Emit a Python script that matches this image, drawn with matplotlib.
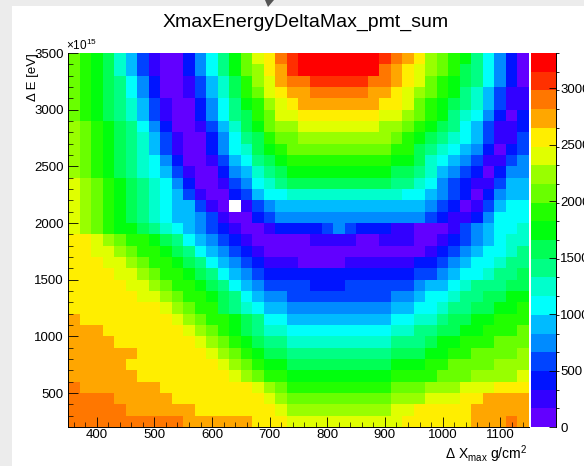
"""
XmaxEnergyDeltaMax_pmt_sum  (ROOT style colz map)
"""

import colorsys
import numpy as np
import matplotlib
matplotlib.use("Agg")
from matplotlib import pyplot as plt
from matplotlib.colors import ListedColormap, BoundaryNorm
from matplotlib.patches import Rectangle, Polygon
from matplotlib.ticker import MultipleLocator

plt.rcParams['font.family'] = ['Liberation Sans', 'DejaVu Sans']
plt.rcParams['mathtext.fontset'] = 'custom'
plt.rcParams['mathtext.rm'] = 'Liberation Sans'
plt.rcParams['mathtext.it'] = 'Liberation Sans:italic'
plt.rcParams['mathtext.default'] = 'regular'

# histogram binning (x in g/cm2, y in units of 1e15 eV)
x_lo, x_hi, x_bin = 350, 1150, 20
y_lo, y_hi, y_bin = 200, 3500, 100
z_max = 3310
n_levels = 20

# colour level of every bin (0 = violet ... 19 = red), top row first, -1 = empty bin
levels_top_down = [
    [12,11,10,9,7,5,3,1,0,0, 2,4,6,8,10,12,14,15,17,18, 19,19,19,19,19,19,19,18,17,16, 15,13,12,11,10,8,6,4,2,0],
    [12,11,10,9,7,5,3,1,0,0, 2,4,6,8,10,12,13,15,16,18, 19,19,19,19,19,19,19,17,16,15, 14,13,12,11,9,8,6,4,2,0],
    [12,11,10,9,8,6,4,2,0,0, 1,3,5,7,9,11,13,14,16,17, 17,18,18,18,18,18,17,17,16,15, 14,12,11,10,9,8,6,4,2,0],
    [12,11,10,9,8,6,4,2,0,0, 1,3,5,7,9,11,12,14,15,16, 16,17,17,17,17,17,16,16,15,14, 13,12,11,10,8,7,5,3,1,1],
    [12,11,10,9,8,7,5,3,1,0, 0,2,4,6,8,10,11,13,14,15, 16,16,16,16,16,16,16,15,15,14, 12,11,10,9,8,7,5,3,1,1],
    [12,11,10,9,8,7,5,3,1,0, 0,2,4,6,8,9,11,12,14,14, 15,15,15,15,15,15,15,14,14,13, 12,11,10,8,7,6,4,2,0,2],
    [13,12,11,10,9,8,6,4,2,0, 0,1,3,5,7,9,10,12,13,13, 14,14,14,14,14,14,14,13,13,12, 11,10,9,8,6,5,3,1,1,2],
    [13,12,11,10,9,8,7,5,3,1, 0,0,2,4,6,8,9,11,12,12, 13,13,13,13,13,13,13,13,12,11, 10,9,8,7,6,5,3,1,1,3],
    [13,12,11,10,9,8,7,5,3,1, 0,0,2,4,6,7,9,10,11,12, 12,12,12,12,12,12,12,12,11,11, 9,8,7,6,5,4,2,0,2,3],
    [13,12,11,10,9,8,7,6,4,2, 0,0,1,3,5,6,8,9,10,11, 11,11,11,11,11,11,11,11,10,10, 9,7,6,5,4,3,1,1,3,4],
    [13,12,11,10,9,8,7,6,5,3, 1,0,0,2,4,5,7,8,9,10, 10,10,10,10,10,10,10,10,9,9, 8,7,5,4,3,2,0,2,4,4],
    [14,13,12,11,10,9,8,7,6,4, 2,0,0,1,3,4,6,7,8,9, 9,9,9,9,9,9,9,9,8,8, 7,6,4,3,2,1,1,3,5,5],
    [14,13,12,11,10,9,8,7,6,5, 3,1,0,0,2,3,5,6,6,7, 7,7,7,7,7,7,7,7,7,6, 6,5,4,3,2,0,2,4,5,5],
    [14,13,12,11,10,9,8,7,6,5, 5,3,1,0,-1,1,3,4,5,5, 5,5,5,5,5,5,5,5,5,5, 5,4,3,2,0,1,3,5,6,6],
    [14,13,12,11,10,9,8,7,6,5, 5,4,3,1,0,0,2,3,4,4, 4,4,4,4,4,4,4,4,4,4, 4,3,2,1,1,2,4,6,6,6],
    [14,13,12,11,10,10,9,8,7,6, 5,4,3,2,1,0,0,1,2,2, 2,2,3,4,3,2,2,2,1,1, 0,0,0,1,3,4,5,6,6,7],
    [15,15,14,13,12,11,11,10,9,8, 6,5,4,3,2,1,0,0,0,0, 0,1,1,1,1,0,0,1,1,1, 0,0,1,2,3,4,5,6,7,7],
    [15,15,14,14,13,12,11,11,10,9, 8,6,5,4,3,2,1,0,0,0, 0,0,0,0,0,0,0,0,0,0, 0,1,2,3,4,5,6,6,7,8],
    [15,15,15,14,14,13,12,11,11,10, 9,8,6,5,4,3,2,1,1,1, 0,0,0,0,1,1,1, 1,1,1,2,2,3,4,5,6,6,7,8,8],
    [15,15,15,15,14,14,13,12,11,11, 10,9,8,6,5,4,3,2,2,2, 2,2,2,2,2,2,2, 2,2,2,3,3,4,5,6,6,7,8,8,9],
    [15,15,15,15,15,14,14,13,12,11, 11,10,9,8,6,5,4,3,3,3, 3,2,2,2,3,3,3, 3,3,3,4,5,5,6,7,8,8,8,9,9],
    [15,15,15,15,15,15,14,14,13,12, 11,11,10,9,8,6,5,4,4,3, 3,3,3,3,3,3,3, 3,4,4,5,6,6,7,8,8,9,9,10,10],
    [15,15,15,15,15,15,15,15,14,13, 12,11,11,9,8,7,6,5,5,4, 4,4,4,4,4,4,4, 4,5,5,6,6,7,8,8,9,9,10,10,11],
    [16,15,15,15,15,15,15,15,15,14, 13,12,11,11,10,9,8,6,6,5, 5,5,5,5,5,5,5, 5,6,6,7,7,8,9,9,10,10,11,11,11],
    [16,16,16,15,15,15,15,15,15,15, 14,13,12,11,10,9,8,7,7,6, 6,6,6,6,6,6,6, 6,7,7,8,8,9,9,10,10,11,11,11,12],
    [16,16,16,16,15,15,15,15,15,15, 15,14,13,12,11,10,9,8,8,7, 7,7,7,7,7,7,7, 7,8,8,8,9,10,10,11,11,11,12,12,12],
    [16,16,16,16,16,16,15,15,15,15, 15,15,14,13,12,11,10,9,9,8, 8,8,8,8,8,8,8, 8,9,9,9,10,10,11,11,12,12,12,12,13],
    [16,16,16,16,16,15,15,15,15,15, 15,15,15,14,13,12,11,10,10,9, 9,9,9,9,9,9,9, 9,10,10,10,11,11,12,12,12,12,13,13,13],
    [16,16,16,16,16,16,15,15,15,15, 15,15,15,15,14,13,12,11,11,10, 10,10,10,10,10,10,10, 10,11,11,11,11,12,12,12,13,13,13,13,14],
    [17,16,16,16,16,16,16,16,15,15, 15,15,15,15,15,15,14,13,12,11, 11,11,11,11,11,11,11, 11,12,12,12,13,13,13,14,14,14,15,15,15],
    [17,17,17,17,16,16,16,16,16,15, 15,15,15,15,15,15,15,14,13,12, 12,12,12,12,12,12,12, 12,13,13,13,14,14,14,15,15,16,16,16,16],
    [17,17,17,17,17,16,16,16,16,16, 16,15,15,15,15,15,15,15,14,13, 13,13,13,13,13,13,13, 13,14,14,15,15,15,15,15,16,16,16,16,16],
    [17,17,17,17,17,17,17,17,17,17, 16,16,16,16,16,16,15,15,15,14, 14,14,14,14,14,14,14, 14,14,15,15,15,15,15,15,16,16,16,17,16],
]

x_ticks = [400, 500, 600, 700, 800, 900, 1000, 1100]
y_ticks = [500, 1000, 1500, 2000, 2500, 3000, 3500]
z_ticks = [0, 500, 1000, 1500, 2000, 2500, 3000]


#ROOT pretty palette: 50 hues violet->red, picked for 20 contour levels
def root_color(k):
    i = min(int((k + 0.99) * 50 / n_levels), 49)
    hue = 280 - (i + 1) * 5.6
    return colorsys.hls_to_rgb(hue / 360.0, 0.5, 1.0)


lev = np.array(levels_top_down, dtype=float)
z = (lev + 0.5) * z_max / n_levels
z[lev < 0] = np.nan  #empty bin is not painted

cmap = ListedColormap([root_color(k) for k in range(n_levels)])
norm = BoundaryNorm(np.linspace(0, z_max, n_levels + 1), n_levels)

W, H = 584, 466
fig = plt.figure(figsize=(W / 100, H / 100), dpi=100)
fig.patch.set_facecolor('#ececec')
fig.add_artist(Rectangle((12 / W, 0), 1, (H - 6) / H, transform=fig.transFigure,
                         facecolor='white', edgecolor='none', zorder=-10))
fig.add_artist(Polygon([(265 / W, 1), (274 / W, 1), (268 / W, (H - 7) / H)], closed=True,
                       transform=fig.transFigure, facecolor='#555555', edgecolor='none'))

ax = fig.add_axes([68 / W, (H - 427) / H, (529 - 68) / W, (427 - 53) / H])
im = ax.imshow(z, extent=(x_lo, x_hi, y_lo, y_hi), origin='upper', aspect='auto',
               interpolation='nearest', cmap=cmap, norm=norm)
ax.set_xlim(x_lo, x_hi)
ax.set_ylim(y_lo, y_hi)
ax.set_xticks(x_ticks)
ax.set_yticks(y_ticks)
ax.xaxis.set_minor_locator(MultipleLocator(20))
ax.yaxis.set_minor_locator(MultipleLocator(100))
ax.tick_params(which='major', direction='in', length=7, width=0.6, labelsize=9.5)
ax.tick_params(axis='x', which='major', pad=1.5)
ax.tick_params(axis='y', which='major', pad=3)
ax.tick_params(which='minor', direction='in', length=3.5, width=0.5)
for s in ['top', 'right']:
    ax.spines[s].set_visible(False)
for s in ['left', 'bottom']:
    ax.spines[s].set_linewidth(0.7)

#palette on the right
cax = fig.add_axes([531 / W, (H - 427) / H, 25 / W, (427 - 53) / H])
cb = fig.colorbar(im, cax=cax, ticks=z_ticks)
cb.outline.set_visible(False)
cax.set_yticklabels([str(t) for t in z_ticks])
cax.tick_params(direction='in', length=5, width=0.6, labelsize=9.5, pad=3)
cax.plot([1, 1], [0, 1], transform=cax.transAxes, color='black', lw=0.7, clip_on=False)

#texts
fig.text(306 / W, 1 - 22 / H, 'XmaxEnergyDeltaMax_pmt_sum', ha='center', va='center', fontsize=14)
fig.text(66 / W, 1 - 53 / H, r'$\times10^{15}$', ha='left', va='bottom', fontsize=8.5)
fig.text(33 / W, 1 - 53 / H, 'Δ E [eV]', rotation=90, ha='center', va='top', fontsize=9.5)
fig.text(527 / W, 1 - 454 / H, r'$\Delta$ X$_{max}$ g/cm$^{2}$', ha='right', va='center', fontsize=10)

fig.savefig('out.png', dpi=100, facecolor=fig.get_facecolor())
